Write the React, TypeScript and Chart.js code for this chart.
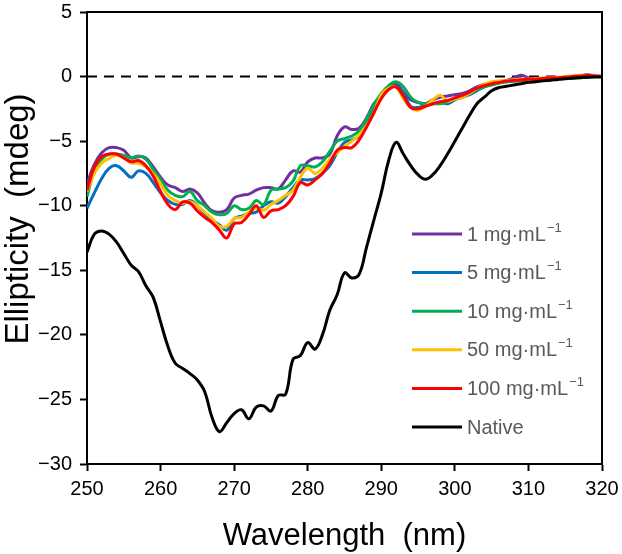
import React, { useEffect, useRef } from 'react';
import { Chart, registerables } from 'chart.js';

Chart.register(...registerables);

// wavelength (nm), 1 nm steps
const WAVELENGTH = [
  250, 251, 252, 253, 254, 255, 256, 257, 258, 259,
  260, 261, 262, 263, 264, 265, 266, 267, 268, 269,
  270, 271, 272, 273, 274, 275, 276, 277, 278, 279,
  280, 281, 282, 283, 284, 285, 286, 287, 288, 289,
  290, 291, 292, 293, 294, 295, 296, 297, 298, 299,
  300, 301, 302, 303, 304, 305, 306, 307, 308, 309,
  310, 311, 312, 313, 314, 315, 316, 317, 318, 319, 320,
];

// ellipticity (mdeg)
const MG1 = [
  -8.3, -6.8, -5.9, -5.5, -5.5, -5.7, -6.3, -6.2, -6.3, -7.0,
  -7.8, -8.4, -8.6, -8.9, -8.7, -9.0, -9.8, -10.4, -10.5, -10.3,
  -9.4, -9.2, -9.1, -8.8, -8.6, -8.6, -8.7, -8.0, -7.3, -7.4,
  -6.6, -6.3, -6.3, -6.0, -4.6, -3.9, -4.1, -4.0, -3.2, -2.1,
  -1.5, -0.9, -0.6, -1.2, -1.8, -2.0, -2.1, -1.8, -1.6, -1.5,
  -1.4, -1.3, -1.1, -0.8, -0.6, -0.5, -0.4, -0.3, -0.1, 0.1,
  -0.1, -0.2, -0.15, -0.1, -0.1, -0.05, 0.0, 0.05, 0.1, 0.05, 0.0,
];
const MG5 = [
  -10.2, -9.0, -7.9, -7.1, -6.9, -7.3, -7.8, -7.3, -7.5, -8.2,
  -9.0, -9.6, -9.9, -9.9, -9.6, -10.0, -10.6, -11.1, -11.5, -11.9,
  -11.0, -10.8, -10.6, -10.5, -10.0, -9.7, -9.8, -9.3, -8.6, -8.0,
  -8.0, -7.9, -7.5, -6.9, -5.9, -5.1, -4.9, -4.6, -3.7, -2.5,
  -1.5, -0.9, -0.8, -1.3, -2.3, -2.4, -2.2, -2.1, -2.0, -2.1,
  -1.8, -1.6, -1.4, -1.1, -0.8, -0.6, -0.5, -0.4, -0.35, -0.3,
  -0.25, -0.2, -0.2, -0.15, -0.1, -0.05, 0.0, 0.05, 0.15, 0.05, 0.0,
];
const MG10 = [
  -9.3, -7.3, -6.4, -6.0, -6.0, -6.1, -6.3, -6.15, -6.4, -7.2,
  -8.0, -8.8, -9.2, -9.3, -8.9, -9.6, -10.0, -10.5, -10.7, -10.6,
  -10.0, -10.3, -10.2, -9.6, -9.9, -8.8, -8.7, -8.6, -8.1, -6.9,
  -6.9, -7.0, -6.6, -5.8, -5.0, -4.8, -4.6, -4.2, -3.3, -2.2,
  -1.3, -0.7, -0.4, -0.8, -1.6, -2.0, -2.1, -2.1, -2.1, -2.0,
  -1.7, -1.5, -1.3, -1.0, -0.8, -0.65, -0.5, -0.4, -0.35, -0.3,
  -0.3, -0.25, -0.25, -0.2, -0.2, -0.15, -0.15, -0.1, -0.05, 0.0, 0.0,
];
const MG50 = [
  -8.9, -7.5, -6.7, -6.35, -6.1, -6.3, -6.7, -6.7, -7.0, -7.5,
  -8.3, -9.2, -9.6, -9.8, -9.7, -10.0, -10.5, -11.0, -11.6, -11.6,
  -11.0, -10.9, -10.5, -10.2, -10.35, -9.9, -9.6, -9.2, -8.8, -7.8,
  -7.1, -7.5, -7.1, -6.4, -5.9, -5.4, -5.0, -4.5, -3.8, -2.8,
  -1.4, -0.9, -0.8, -1.7, -2.4, -2.6, -2.3, -1.8, -1.45, -1.9,
  -1.75, -1.6, -1.3, -0.9, -0.6, -0.4, -0.35, -0.3, -0.25, -0.2,
  -0.2, -0.15, -0.1, -0.1, -0.05, 0.0, 0.05, 0.1, 0.1, 0.05, 0.0,
];
const MG100 = [
  -8.8, -7.0, -6.2, -6.0, -6.0, -6.3, -6.6, -6.5, -6.9, -7.7,
  -8.9, -9.9, -10.3, -9.7, -9.8, -10.4, -10.9, -11.3, -11.9, -12.5,
  -11.4, -11.3, -10.7, -10.0, -10.9, -10.4, -10.3, -10.0, -9.3, -8.2,
  -8.4, -8.0, -7.5, -6.7, -5.7, -5.5, -5.5, -4.9, -3.9, -2.8,
  -1.7, -1.0, -0.8, -1.5, -2.4, -2.5, -2.3, -2.1, -1.95, -1.85,
  -1.65, -1.45, -1.2, -0.9, -0.7, -0.55, -0.45, -0.35, -0.3, -0.25,
  -0.2, -0.2, -0.15, -0.1, -0.1, -0.05, 0.0, 0.05, 0.1, 0.05, 0.0,
];
const NATIVE = [
  -13.6, -12.2, -11.95, -12.2, -12.8, -13.7, -14.6, -15.1, -16.2, -17.1,
  -19.0, -20.9, -22.2, -22.6, -23.0, -23.5, -24.4, -26.4, -27.5, -26.8,
  -26.1, -25.8, -26.5, -25.6, -25.5, -25.9, -24.7, -24.6, -21.9, -21.6,
  -20.6, -21.1, -20.0, -18.1, -16.9, -15.2, -15.6, -15.3, -13.2, -11.1,
  -9.0, -6.5, -5.1, -6.0, -6.9, -7.6, -7.95, -7.6, -6.9, -6.0,
  -5.0, -4.0, -3.0, -2.1, -1.6, -1.1, -0.85, -0.75, -0.65, -0.55,
  -0.45, -0.4, -0.33, -0.29, -0.22, -0.16, -0.12, -0.09, -0.06, -0.04, -0.03,
];

const SERIES = [
  { name: '1 mg·mL', sup: '−1', color: '#7030A0', values: MG1 },
  { name: '5 mg·mL', sup: '−1', color: '#0070C0', values: MG5 },
  { name: '10 mg·mL', sup: '−1', color: '#00B050', values: MG10 },
  { name: '50 mg·mL', sup: '−1', color: '#FFC000', values: MG50 },
  { name: '100 mg·mL', sup: '−1', color: '#FF0000', values: MG100 },
  { name: 'Native', sup: '', color: '#000000', values: NATIVE },
];

const Y_TITLE = 'Ellipticity  (mdeg)';
const FONT = '"Liberation Sans", Arial, sans-serif';

// frame on top/right, y title and legend inside plot area
const framePlugin = {
  id: 'frameAndLegend',
  afterDraw(chart: any) {
    const { ctx, chartArea } = chart;
    ctx.save();
    ctx.strokeStyle = '#000';
    ctx.lineWidth = 2;
    ctx.beginPath();
    ctx.moveTo(chartArea.left - 1, chartArea.top);
    ctx.lineTo(chartArea.right, chartArea.top);
    ctx.lineTo(chartArea.right, chartArea.bottom);
    ctx.stroke();

    // y title, sits a bit above the middle of the axis
    ctx.save();
    ctx.translate(19, chartArea.top + 207);
    ctx.rotate(-Math.PI / 2);
    ctx.fillStyle = '#000';
    ctx.font = `33px ${FONT}`;
    ctx.textAlign = 'center';
    ctx.textBaseline = 'middle';
    ctx.fillText(Y_TITLE, 0, 0);
    ctx.restore();

    const x0 = chartArea.left + 325;
    const lineLen = 50;
    let y = chartArea.top + 222;
    SERIES.forEach((s) => {
      ctx.strokeStyle = s.color;
      ctx.lineWidth = 3;
      ctx.beginPath();
      ctx.moveTo(x0, y);
      ctx.lineTo(x0 + lineLen, y);
      ctx.stroke();
      ctx.fillStyle = '#595959';
      ctx.textBaseline = 'middle';
      ctx.textAlign = 'left';
      ctx.font = `20px ${FONT}`;
      const tx = x0 + lineLen + 5;
      ctx.fillText(s.name, tx, y + 1);
      if (s.sup) {
        const w = ctx.measureText(s.name).width;
        ctx.font = `13px ${FONT}`;
        ctx.fillText(s.sup, tx + w + 1, y - 6);
      }
      y += 38.6;
    });
    ctx.restore();
  },
};

const CdChart = () => {
  const canvasRef = useRef<HTMLCanvasElement>(null);

  useEffect(() => {
    if (!canvasRef.current) return;
    const lines = SERIES.map((s, i) => ({
      label: s.name + s.sup,
      data: WAVELENGTH.map((w, j) => ({ x: w, y: s.values[j] })),
      borderColor: s.color,
      backgroundColor: s.color,
      borderWidth: 3,
      pointRadius: 0,
      tension: 0.4,
      fill: false,
      order: SERIES.length - 1 - i,
    }));
    const zeroLine = {
      label: 'zero',
      data: [{ x: 250, y: 0 }, { x: 320, y: 0 }],
      borderColor: '#000',
      borderWidth: 2,
      borderDash: [10, 7],
      pointRadius: 0,
      fill: false,
      order: 20,
    };

    const chart = new Chart(canvasRef.current, {
      type: 'line',
      data: { datasets: [...lines, zeroLine] as any },
      plugins: [framePlugin],
      options: {
        responsive: false,
        animation: false,
        devicePixelRatio: 1,
        layout: { padding: { top: 12, right: 20, left: 0, bottom: 0 } },
        plugins: {
          legend: { display: false },
          tooltip: { enabled: false },
        },
        scales: {
          x: {
            type: 'linear',
            min: 250,
            max: 320,
            afterFit: (s: any) => {
              s.height = 90;
              s.paddingLeft = 0;
              s.paddingRight = 0;
            },
            ticks: {
              stepSize: 10,
              color: '#000',
              padding: 6,
              font: { family: FONT, size: 20 },
            },
            grid: {
              drawOnChartArea: false,
              tickLength: 7,
              tickColor: '#000',
              tickWidth: 2,
            },
            border: { color: '#000', width: 2 },
            title: {
              display: true,
              text: 'Wavelength  (nm)',
              color: '#000',
              font: { family: FONT, size: 31, lineHeight: 1.1 },
              padding: { top: 0, bottom: 0 },
            },
          },
          y: {
            min: -30,
            max: 5,
            afterFit: (s: any) => {
              s.width = 87;
              s.paddingTop = 0;
              s.paddingBottom = 0;
            },
            ticks: {
              stepSize: 5,
              color: '#000',
              padding: 8,
              font: { family: FONT, size: 20 },
              callback: (v: any) => String(v).replace('-', '−'),
            },
            grid: {
              drawOnChartArea: false,
              tickLength: 7,
              tickColor: '#000',
              tickWidth: 2,
            },
            border: { color: '#000', width: 2 },
          },
        },
      },
    });
    return () => chart.destroy();
  }, []);

  return <canvas ref={canvasRef} width={622} height={554} />;
};

export default function App() {
  return (
    <div style={{ position: 'absolute', left: 0, top: 0, width: 622, height: 554, background: '#fff' }}>
      <CdChart />
    </div>
  );
}
